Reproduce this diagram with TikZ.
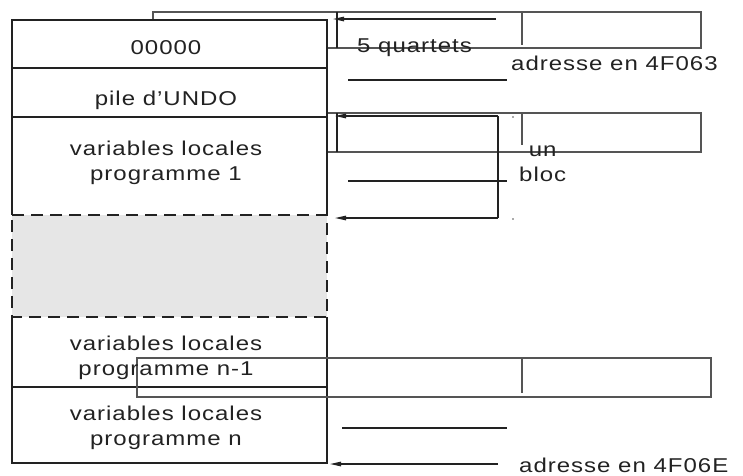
\documentclass[tikz,border=0pt]{standalone}
\usepackage{fontspec}
\setmainfont[FakeStretch=1.2,LetterSpace=5]{Liberation Sans}
\usetikzlibrary{arrows.meta}
\definecolor{ink}{HTML}{222222}
\definecolor{frame}{HTML}{555555}
\definecolor{greyfill}{HTML}{E6E6E6}
\tikzset{
  stackline/.style={draw=ink, line width=1.6pt},
  rectline/.style={draw=frame, line width=1.3pt},
  thinline/.style={draw=ink, line width=1.1pt},
  ptr/.style={draw=ink, line width=1.1pt, -{Triangle[length=11pt,width=4.5pt]}},
  lbl/.style={inner sep=0pt, text=ink, font=\fontsize{20}{25}\selectfont, align=center},
}
\begin{document}
\begin{tikzpicture}[x=1pt,y=-1pt]
\useasboundingbox (0,0) rectangle (743,475);
% rectangles behind the stack
\draw[rectline] (153,12) rectangle (701,48);
\draw[rectline] (327,113) rectangle (701,152);
% stack
\fill[white] (12,20) rectangle (327,215);
\fill[white] (12,317) rectangle (327,463);
\fill[greyfill] (12,215) rectangle (327,317);
\draw[stackline] (12,215) -- (12,20) -- (327,20) -- (327,215);
\draw[stackline] (12,317) -- (12,463) -- (327,463) -- (327,317);
\draw[stackline, dash pattern=on 12pt off 7pt] (12,215) -- (327,215) -- (327,317) -- (12,317) -- cycle;
\draw[stackline] (12,68) -- (327,68);
\draw[stackline] (12,117) -- (327,117);
\draw[thinline] (12,387) -- (327,387);
% bottom rectangle over the stack
\draw[rectline] (137,358) rectangle (711,397);
% dividers and small verticals
\draw[rectline] (522,12) -- (522,45);
\draw[thinline] (337,12) -- (337,48);
\draw[rectline] (522,113) -- (522,145);
\draw[thinline] (337,113) -- (337,152);
\draw[rectline] (522,358) -- (522,393);
% labels in stack
\node[lbl] (z) at (166,48) {00000};
\node[lbl] (u) at (166,100) {pile d'UNDO};
\node[lbl] (p1) at (166,163) {variables locales\\programme 1};
\node[lbl] (pn1) at (166,358) {variables locales\\programme n-1};
\node[lbl] (pn) at (166,428) {variables locales\\programme n};
% right side labels
\node[lbl, anchor=west] (q) at (357,48) {5 quartets};
\node[lbl, anchor=west] (a1) at (511,63) {adresse en 4F063};
\node[lbl, anchor=west] (ub) at (519,164) {un\\bloc};
\node[lbl, anchor=west] (a2) at (519,465) {adresse en 4F06E};
% coordinates for connectors
\coordinate (t1) at (496,19);
\coordinate (h1) at (333,19);
\coordinate (l1a) at (348,80);
\coordinate (l1b) at (507,80);
\coordinate (t2) at (498,116);
\coordinate (h2) at (335,116);
\coordinate (t3) at (498,218);
\coordinate (h3) at (335,218);
\coordinate (l2a) at (348,181);
\coordinate (l2b) at (507,181);
\coordinate (l3a) at (342,428);
\coordinate (l3b) at (507,428);
\coordinate (t4) at (498,464);
\coordinate (h4) at (330,464);
% connectors
\draw[ptr] (t1) -- (h1);
\draw[thinline] (l1a) -- (l1b);
\draw[ptr] (t2) -- (h2);
\draw[thinline] (t2) -- (t3);
\draw[ptr] (t3) -- (h3);
\draw[thinline] (l2a) -- (l2b);
\draw[thinline] (l3a) -- (l3b);
\draw[ptr] (t4) -- (h4);
\fill[frame] (513,117) circle (0.8pt);
\fill[frame] (513,219) circle (0.8pt);
\end{tikzpicture}
\end{document}
